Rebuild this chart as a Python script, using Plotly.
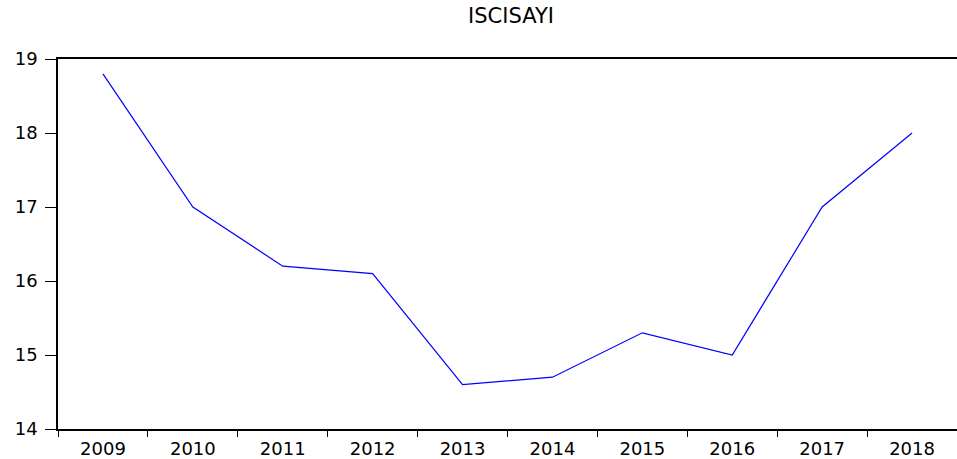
import plotly.graph_objects as go

years = ["2009", "2010", "2011", "2012", "2013", "2014", "2015", "2016", "2017", "2018"]
iscisayi = [18.8, 17.0, 16.2, 16.1, 14.6, 14.7, 15.3, 15.0, 17.0, 18.0]

fig = go.Figure()
fig.add_trace(go.Scatter(x=years, y=iscisayi, mode="lines",
                         line=dict(color="#0000ff", width=1.2), showlegend=False))

fig.update_layout(
    width=957, height=459,
    margin=dict(l=58, r=0, t=59, b=30),
    paper_bgcolor="white", plot_bgcolor="white",
    font=dict(family="DejaVu Sans, Arial, sans-serif", size=18, color="black"),
    title=dict(text="ISCISAYI", x=0.534, xanchor="center", y=0.966, yanchor="middle",
               font=dict(size=21)),
)
fig.update_xaxes(type="category", tickson="boundaries", ticks="outside", ticklen=6,
                 tickcolor="black", showline=True, linecolor="black", linewidth=1.5,
                 mirror=True, showgrid=False, range=[-0.5, 9.5], ticklabelstandoff=3,
                 automargin=False)
fig.update_yaxes(range=[14, 19], dtick=1, ticks="outside", ticklen=11, tickcolor="black",
                 showline=True, linecolor="black", linewidth=1.5, showgrid=False,
                 zeroline=False, ticklabelstandoff=4, automargin=False)

# drop the default 8px page margin so the figure sits at the window corner
fig.write_html("out.html", config={"displayModeBar": False},
               post_script="document.body.style.margin='0px';")
